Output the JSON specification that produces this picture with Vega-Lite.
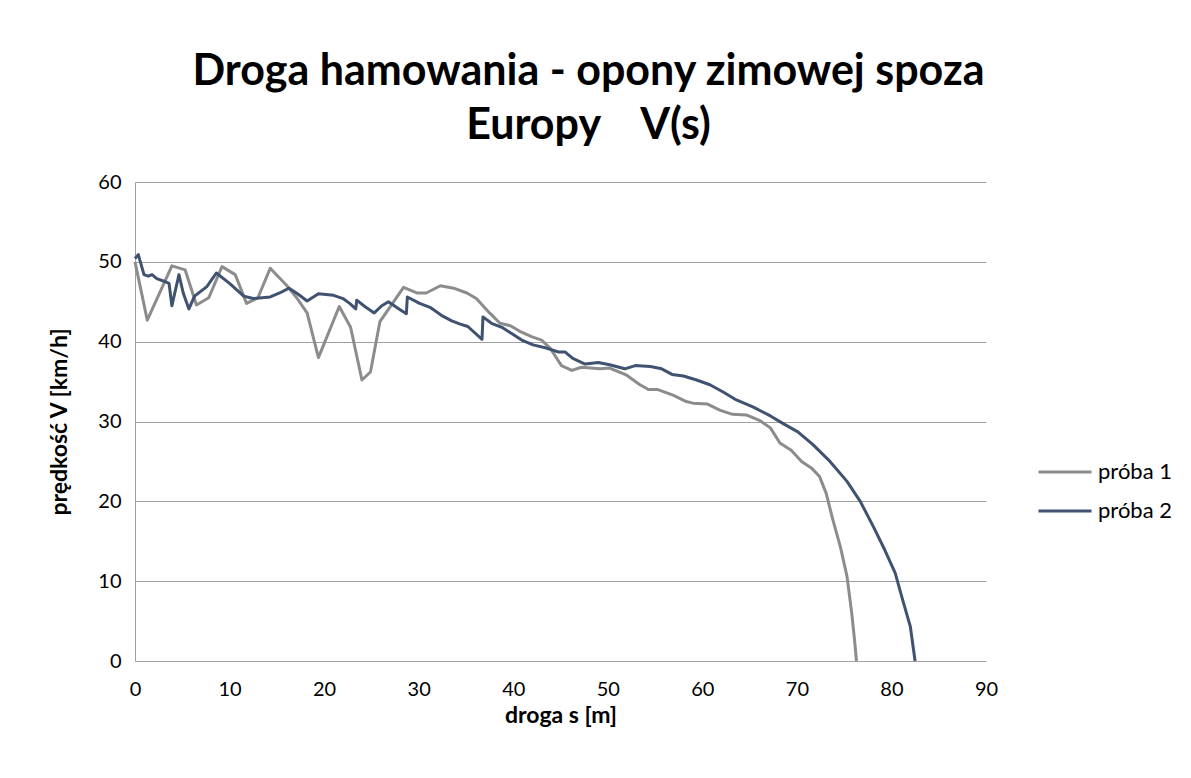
{
  "$schema": "https://vega.github.io/schema/vega-lite/v6.json",
  "autosize": "none",
  "width": 851,
  "height": 479,
  "padding": {"left": 135, "top": 182, "right": 205, "bottom": 117},
  "background": "white",
  "config": {"font": "Lato", "view": {"stroke": null}},
  "title": {
    "text": ["Droga hamowania - opony zimowej spoza", "Europy\u00a0\u00a0\u00a0\u00a0V(s)"],
    "font": "Lato",
    "fontSize": 43,
    "fontWeight": "bold",
    "color": "black",
    "anchor": "middle",
    "frame": "group",
    "dx": 28,
    "baseline": "bottom",
    "lineHeight": 54,
    "offset": -19
  },
  "data": {
    "values": [
      {"seria": "próba 1", "s": 0, "v": 50.0},
      {"seria": "próba 1", "s": 1.3, "v": 42.7},
      {"seria": "próba 1", "s": 3.9, "v": 49.5},
      {"seria": "próba 1", "s": 5.3, "v": 49.0},
      {"seria": "próba 1", "s": 6.5, "v": 44.6},
      {"seria": "próba 1", "s": 7.8, "v": 45.5},
      {"seria": "próba 1", "s": 9.2, "v": 49.4},
      {"seria": "próba 1", "s": 10.6, "v": 48.4},
      {"seria": "próba 1", "s": 11.8, "v": 44.8},
      {"seria": "próba 1", "s": 13.0, "v": 45.5},
      {"seria": "próba 1", "s": 14.3, "v": 49.2},
      {"seria": "próba 1", "s": 16.0, "v": 47.1},
      {"seria": "próba 1", "s": 17.1, "v": 45.5},
      {"seria": "próba 1", "s": 18.2, "v": 43.6},
      {"seria": "próba 1", "s": 19.4, "v": 38.0},
      {"seria": "próba 1", "s": 21.6, "v": 44.4},
      {"seria": "próba 1", "s": 22.8, "v": 41.8},
      {"seria": "próba 1", "s": 24.0, "v": 35.2},
      {"seria": "próba 1", "s": 24.9, "v": 36.2},
      {"seria": "próba 1", "s": 25.9, "v": 42.5},
      {"seria": "próba 1", "s": 27.0, "v": 44.4},
      {"seria": "próba 1", "s": 28.4, "v": 46.8},
      {"seria": "próba 1", "s": 29.8, "v": 46.1},
      {"seria": "próba 1", "s": 30.8, "v": 46.1},
      {"seria": "próba 1", "s": 32.3, "v": 47.0},
      {"seria": "próba 1", "s": 33.7, "v": 46.7},
      {"seria": "próba 1", "s": 35.1, "v": 46.1},
      {"seria": "próba 1", "s": 36.1, "v": 45.4},
      {"seria": "próba 1", "s": 37.5, "v": 43.6},
      {"seria": "próba 1", "s": 38.6, "v": 42.3},
      {"seria": "próba 1", "s": 39.7, "v": 42.0},
      {"seria": "próba 1", "s": 40.7, "v": 41.3},
      {"seria": "próba 1", "s": 42.0, "v": 40.6},
      {"seria": "próba 1", "s": 43.0, "v": 40.2},
      {"seria": "próba 1", "s": 43.9, "v": 39.2},
      {"seria": "próba 1", "s": 45.1, "v": 37.0},
      {"seria": "próba 1", "s": 46.2, "v": 36.4},
      {"seria": "próba 1", "s": 47.2, "v": 36.8},
      {"seria": "próba 1", "s": 49.2, "v": 36.6},
      {"seria": "próba 1", "s": 50.2, "v": 36.7},
      {"seria": "próba 1", "s": 52.0, "v": 35.8},
      {"seria": "próba 1", "s": 53.4, "v": 34.6},
      {"seria": "próba 1", "s": 54.3, "v": 34.0},
      {"seria": "próba 1", "s": 55.3, "v": 34.0},
      {"seria": "próba 1", "s": 56.9, "v": 33.3},
      {"seria": "próba 1", "s": 58.3, "v": 32.5},
      {"seria": "próba 1", "s": 59.0, "v": 32.3},
      {"seria": "próba 1", "s": 60.5, "v": 32.2},
      {"seria": "próba 1", "s": 61.9, "v": 31.4},
      {"seria": "próba 1", "s": 63.2, "v": 30.9},
      {"seria": "próba 1", "s": 64.7, "v": 30.8},
      {"seria": "próba 1", "s": 66.1, "v": 30.1},
      {"seria": "próba 1", "s": 67.2, "v": 29.2},
      {"seria": "próba 1", "s": 68.2, "v": 27.3},
      {"seria": "próba 1", "s": 69.4, "v": 26.4},
      {"seria": "próba 1", "s": 70.5, "v": 25.0},
      {"seria": "próba 1", "s": 71.6, "v": 24.1},
      {"seria": "próba 1", "s": 72.4, "v": 23.1},
      {"seria": "próba 1", "s": 73.1, "v": 21.0},
      {"seria": "próba 1", "s": 73.8, "v": 17.7},
      {"seria": "próba 1", "s": 74.6, "v": 14.3},
      {"seria": "próba 1", "s": 75.3, "v": 10.6},
      {"seria": "próba 1", "s": 75.8, "v": 6.0},
      {"seria": "próba 1", "s": 76.1, "v": 2.6},
      {"seria": "próba 1", "s": 76.3, "v": 0},
      {"seria": "próba 2", "s": 0, "v": 50.4},
      {"seria": "próba 2", "s": 0.35, "v": 50.9},
      {"seria": "próba 2", "s": 0.95, "v": 48.4},
      {"seria": "próba 2", "s": 1.4, "v": 48.2},
      {"seria": "próba 2", "s": 1.8, "v": 48.4},
      {"seria": "próba 2", "s": 2.3, "v": 47.9},
      {"seria": "próba 2", "s": 3.0, "v": 47.6},
      {"seria": "próba 2", "s": 3.6, "v": 47.3},
      {"seria": "próba 2", "s": 3.9, "v": 44.5},
      {"seria": "próba 2", "s": 4.65, "v": 48.4},
      {"seria": "próba 2", "s": 5.1, "v": 46.1},
      {"seria": "próba 2", "s": 5.7, "v": 44.1},
      {"seria": "próba 2", "s": 6.3, "v": 45.7},
      {"seria": "próba 2", "s": 7.6, "v": 46.9},
      {"seria": "próba 2", "s": 8.6, "v": 48.6},
      {"seria": "próba 2", "s": 10.0, "v": 47.3},
      {"seria": "próba 2", "s": 11.5, "v": 45.7},
      {"seria": "próba 2", "s": 12.5, "v": 45.4},
      {"seria": "próba 2", "s": 14.3, "v": 45.6},
      {"seria": "próba 2", "s": 15.3, "v": 46.1},
      {"seria": "próba 2", "s": 16.3, "v": 46.7},
      {"seria": "próba 2", "s": 17.3, "v": 45.9},
      {"seria": "próba 2", "s": 18.2, "v": 45.1},
      {"seria": "próba 2", "s": 19.4, "v": 46.0},
      {"seria": "próba 2", "s": 21.0, "v": 45.8},
      {"seria": "próba 2", "s": 22.0, "v": 45.4},
      {"seria": "próba 2", "s": 22.7, "v": 44.8},
      {"seria": "próba 2", "s": 23.35, "v": 44.1},
      {"seria": "próba 2", "s": 23.45, "v": 45.2},
      {"seria": "próba 2", "s": 24.3, "v": 44.4},
      {"seria": "próba 2", "s": 25.3, "v": 43.6},
      {"seria": "próba 2", "s": 26.1, "v": 44.5},
      {"seria": "próba 2", "s": 26.8, "v": 45.0},
      {"seria": "próba 2", "s": 27.8, "v": 44.2},
      {"seria": "próba 2", "s": 28.7, "v": 43.5},
      {"seria": "próba 2", "s": 28.8, "v": 45.6},
      {"seria": "próba 2", "s": 30.1, "v": 44.8},
      {"seria": "próba 2", "s": 31.2, "v": 44.3},
      {"seria": "próba 2", "s": 32.4, "v": 43.3},
      {"seria": "próba 2", "s": 33.5, "v": 42.6},
      {"seria": "próba 2", "s": 34.4, "v": 42.2},
      {"seria": "próba 2", "s": 35.2, "v": 41.9},
      {"seria": "próba 2", "s": 36.7, "v": 40.3},
      {"seria": "próba 2", "s": 36.8, "v": 43.1},
      {"seria": "próba 2", "s": 37.7, "v": 42.3},
      {"seria": "próba 2", "s": 38.8, "v": 41.8},
      {"seria": "próba 2", "s": 40.0, "v": 40.9},
      {"seria": "próba 2", "s": 40.9, "v": 40.2},
      {"seria": "próba 2", "s": 42.1, "v": 39.6},
      {"seria": "próba 2", "s": 43.5, "v": 39.2},
      {"seria": "próba 2", "s": 44.8, "v": 38.7},
      {"seria": "próba 2", "s": 45.5, "v": 38.7},
      {"seria": "próba 2", "s": 46.3, "v": 37.9},
      {"seria": "próba 2", "s": 47.6, "v": 37.2},
      {"seria": "próba 2", "s": 49.0, "v": 37.4},
      {"seria": "próba 2", "s": 50.2, "v": 37.1},
      {"seria": "próba 2", "s": 51.8, "v": 36.6},
      {"seria": "próba 2", "s": 52.9, "v": 37.0},
      {"seria": "próba 2", "s": 54.5, "v": 36.9},
      {"seria": "próba 2", "s": 55.7, "v": 36.6},
      {"seria": "próba 2", "s": 56.8, "v": 35.9},
      {"seria": "próba 2", "s": 58.0, "v": 35.7},
      {"seria": "próba 2", "s": 59.4, "v": 35.2},
      {"seria": "próba 2", "s": 60.8, "v": 34.6},
      {"seria": "próba 2", "s": 62.2, "v": 33.7},
      {"seria": "próba 2", "s": 63.6, "v": 32.7},
      {"seria": "próba 2", "s": 65.4, "v": 31.8},
      {"seria": "próba 2", "s": 67.2, "v": 30.7},
      {"seria": "próba 2", "s": 68.6, "v": 29.7},
      {"seria": "próba 2", "s": 70.1, "v": 28.7},
      {"seria": "próba 2", "s": 71.7, "v": 27.1},
      {"seria": "próba 2", "s": 73.5, "v": 25.0},
      {"seria": "próba 2", "s": 75.3, "v": 22.5},
      {"seria": "próba 2", "s": 76.7, "v": 20.0},
      {"seria": "próba 2", "s": 78.1, "v": 16.8},
      {"seria": "próba 2", "s": 79.3, "v": 13.9},
      {"seria": "próba 2", "s": 80.4, "v": 11.0},
      {"seria": "próba 2", "s": 81.2, "v": 7.6},
      {"seria": "próba 2", "s": 82.0, "v": 4.3},
      {"seria": "próba 2", "s": 82.5, "v": 0}
    ]
  },
  "mark": {"type": "line", "strokeWidth": 3, "strokeJoin": "round"},
  "encoding": {
    "x": {
      "field": "s",
      "type": "quantitative",
      "scale": {"domain": [0, 90], "nice": false},
      "axis": {
        "title": "droga s [m]",
        "values": [0, 10, 20, 30, 40, 50, 60, 70, 80, 90],
        "grid": false,
        "ticks": false,
        "domain": false,
        "labelFlush": false,
        "labelFont": "Lato",
        "labelFontSize": 20,
        "labelColor": "black",
        "labelPadding": 18,
        "titleFont": "Lato",
        "titleFontSize": 23,
        "titleFontWeight": "bold",
        "titleColor": "black",
        "titlePadding": 5
      }
    },
    "y": {
      "field": "v",
      "type": "quantitative",
      "scale": {"domain": [0, 60], "nice": false},
      "axis": {
        "title": "prędkość V [km/h]",
        "values": [0, 10, 20, 30, 40, 50, 60],
        "grid": true,
        "gridColor": "#a0a0a0",
        "gridWidth": 1,
        "ticks": false,
        "domain": true,
        "domainColor": "#a0a0a0",
        "domainWidth": 1,
        "labelFlush": false,
        "labelFont": "Lato",
        "labelFontSize": 20,
        "labelColor": "black",
        "labelPadding": 14,
        "titleFont": "Lato",
        "titleFontSize": 23,
        "titleFontWeight": "bold",
        "titleColor": "black",
        "titlePadding": 26
      }
    },
    "color": {
      "field": "seria",
      "type": "nominal",
      "scale": {"domain": ["próba 1", "próba 2"], "range": ["#8c8c8c", "#3f5270"]},
      "legend": {
        "title": null,
        "orient": "none",
        "legendX": 902,
        "legendY": 262,
        "padding": 0,
        "symbolType": "stroke",
        "symbolSize": 2809,
        "symbolStrokeWidth": 3,
        "labelFont": "Lato",
        "labelFontSize": 22,
        "labelColor": "black",
        "labelOffset": 5,
        "rowPadding": -3
      }
    }
  }
}
